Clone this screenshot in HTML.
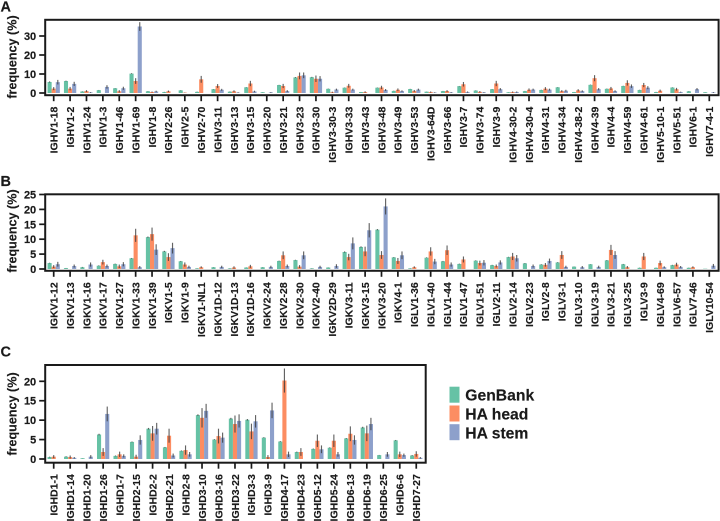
<!DOCTYPE html>
<html>
<head>
<meta charset="utf-8">
<style>
html,body{margin:0;padding:0;background:#fff;}
svg{display:block;font-family:"Liberation Sans",Arial,sans-serif;font-weight:bold;fill:#1a1a1a;}
svg text{stroke:#1a1a1a;stroke-width:0.15px;}
</style>
</head>
<body>
<svg id="chart" width="720" height="521" viewBox="0 0 720 521" xmlns="http://www.w3.org/2000/svg">
  <text x="0.5" y="11.5" font-size="14.5">A</text>
  <text x="0.5" y="186" font-size="14.5">B</text>
  <text x="0.5" y="356.5" font-size="14.5">C</text>
  <g>
    <rect x="449.5" y="386.7" width="10" height="16" fill="#66c2a5"/>
    <text x="465.3" y="400.7" font-size="15.7">GenBank</text>
    <rect x="449.5" y="405.5" width="10" height="16" fill="#fc8d62"/>
    <text x="465.3" y="419.7" font-size="15.7">HA head</text>
    <rect x="449.5" y="424.2" width="10" height="16" fill="#8da0cb"/>
    <text x="465.3" y="438.3" font-size="15.7">HA stem</text>
  </g>
</svg>
<script>
const aCategories = ["IGHV1-18","IGHV1-2","IGHV1-24","IGHV1-3","IGHV1-46","IGHV1-69","IGHV1-8","IGHV2-26","IGHV2-5","IGHV2-70","IGHV3-11","IGHV3-13","IGHV3-15","IGHV3-20","IGHV3-21","IGHV3-23","IGHV3-30","IGHV3-30-3","IGHV3-33","IGHV3-43","IGHV3-48","IGHV3-49","IGHV3-53","IGHV3-64D","IGHV3-66","IGHV3-7","IGHV3-74","IGHV3-9","IGHV4-30-2","IGHV4-30-4","IGHV4-31","IGHV4-34","IGHV4-38-2","IGHV4-39","IGHV4-4","IGHV4-59","IGHV4-61","IGHV5-10-1","IGHV5-51","IGHV6-1","IGHV7-4-1"];
const aGenBank = [5.8,6.3,0.8,1.5,2.5,10.2,0.9,0.5,1.4,0.6,2,0.7,3,0.4,4.2,8.2,8.3,2.2,2.8,0.5,2.8,1.1,2.1,0.7,1,3.6,1.3,2,0.4,1,1.6,3,0.5,4.3,2.2,3.7,1.6,0.5,2.9,0.9,0.4];
const aHead = [2.3,2.3,1,0,0.9,6.3,0.5,0.9,0.2,7.2,3.7,0.9,5,0,3.7,9,7.5,0.4,3.8,0.5,2.9,1.7,1.1,0.5,1,4.6,0.6,5,0.5,1.7,2.3,1,1.4,7.8,2.4,5.3,4.2,1.2,2,0,0];
const aStem = [5.7,4.8,0.3,3.2,2.5,35,0.8,0,0,0,1.7,0.2,0.8,0.3,1,9.3,7.5,1.8,1.8,0,1.6,1,1.8,0.2,0.3,0.5,0.3,2,0.5,1.8,1.8,1.2,1,2,1,3.6,2.8,0,0.5,2,0.3];
const aErrGenBank = [0.3,0.2,0.1,0.1,0.1,0.2,0.1,0.1,0.1,0.1,0.1,0.1,0.1,0.05,0.1,0.2,0.2,0.1,0.1,0.05,0.1,0.1,0.1,0.05,0.1,0.1,0.1,0.1,0.05,0.1,0.1,0.1,0.05,0.1,0.1,0.1,0.1,0.1,0.1,0.1,0.05];
const aErrHead = [0.8,0.9,0.5,0,0.6,1.5,0.3,0.4,0.1,1.8,1,0.5,1.4,0,1.1,1.8,1.7,0.3,1,0.4,0.9,0.7,0.5,0.3,0.5,1.2,0.4,1.4,0.3,0.7,0.8,0.5,0.6,1.6,0.8,1.4,1.1,0.6,0.7,0,0];
const aErrStem = [1.2,1.1,0.2,0.9,0.8,2.3,0.4,0,0,0,0.5,0.2,0.4,0.2,0.5,1.5,1.4,0.5,0.5,0,0.5,0.4,0.5,0.2,0.2,0.3,0.2,0.6,0.3,0.5,0.5,0.5,0.4,0.6,0.4,0.9,0.8,0,0.2,0.6,0.2];
const aTicks = [0,10,20,30];

const bCategories = ["IGKV1-12","IGKV1-13","IGKV1-16","IGKV1-17","IGKV1-27","IGKV1-33","IGKV1-39","IGKV1-5","IGKV1-9","IGKV1-NL1","IGKV1D-12","IGKV1D-13","IGKV1D-16","IGKV2-24","IGKV2-28","IGKV2-30","IGKV2-40","IGKV2D-29","IGKV3-11","IGKV3-15","IGKV3-20","IGKV4-1","IGLV1-36","IGLV1-40","IGLV1-44","IGLV1-47","IGLV1-51","IGLV2-11","IGLV2-14","IGLV2-23","IGLV2-8","IGLV3-1","IGLV3-10","IGLV3-19","IGLV3-21","IGLV3-25","IGLV3-9","IGLV4-69","IGLV6-57","IGLV7-46","IGLV10-54"];
const bGenBank = [2,0.3,0.6,1.1,1.7,3.6,10.7,5.9,2.6,0.2,0.6,0.2,0.5,0.6,2.7,3,0.2,0.5,5.7,7.4,13.2,3.9,0.2,3.8,2.6,1.7,2.8,1.3,4,1.9,1.5,2.2,0.8,1.6,2.9,1.6,0.4,0.4,1.3,0.4,0.1];
const bHead = [0.8,0,0,2.3,0.9,11.3,11.7,4,1.5,0.6,0,0.5,0.9,0,4.6,0.8,0,0,4,5.9,4.7,2.7,0.6,5.9,6.3,3.2,2,1,4.2,0,1.4,4.7,0,0,6.4,0.6,4.2,2,1.5,0.6,0];
const bStem = [1.6,1,1.5,1,1.6,0.6,6.5,7,0.7,0,0.7,0,0,0.7,1,4.6,0.7,1,8.6,13,21,4.6,0,2.5,1.5,0,2.1,2.2,3.6,1,2.7,0.7,0.6,0.7,4.7,0,0,0.6,0.7,0,1.1];
const bErrGenBank = [0.1,0.05,0.1,0.1,0.1,0.1,0.2,0.2,0.1,0.05,0.05,0.05,0.05,0.05,0.1,0.1,0.05,0.05,0.2,0.2,0.2,0.1,0.05,0.1,0.1,0.1,0.1,0.1,0.1,0.1,0.1,0.1,0.05,0.05,0.1,0.1,0.05,0.05,0.1,0.05,0];
const bErrHead = [0.5,0,0,0.8,0.6,2.2,2.2,1.3,0.7,0.3,0,0.4,0.5,0,1.3,0.5,0,0,1.1,1.6,1.3,1,0.3,1.4,1.6,1,0.8,0.5,1.2,0,0.6,1.3,0,0,1.7,0.4,1.2,0.8,0.6,0.3,0];
const bErrStem = [0.8,0.5,0.7,0.5,0.7,0.4,1.8,1.8,0.4,0,0.4,0,0,0.4,0.5,1.3,0.4,0.6,2,2.4,2.7,1.3,0,0.9,0.7,0,0.9,0.7,1.1,0.5,0.8,0.4,0.4,0.4,1.3,0,0,0.3,0.3,0,0.6];
const bTicks = [0,5,10,15,20,25];

const cCategories = ["IGHD1-1","IGHD1-14","IGHD1-20","IGHD1-26","IGHD1-7","IGHD2-15","IGHD2-2","IGHD2-21","IGHD2-8","IGHD3-10","IGHD3-16","IGHD3-22","IGHD3-3","IGHD3-9","IGHD4-17","IGHD4-23","IGHD5-12","IGHD5-24","IGHD6-13","IGHD6-19","IGHD6-25","IGHD6-6","IGHD7-27"];
const cGenBank = [0.5,0.6,0.2,6.3,0.8,4.4,7.8,3,2.1,11.3,5,10.4,10.1,5.5,4.5,1.8,2.6,2.9,5.3,8.1,1,4.8,0.9];
const cHead = [0.6,0.5,0,1.8,1.2,0.6,6.6,6,2.3,10.6,5.9,9,7.1,0.5,20.2,1.8,4.7,4.7,6.5,6.6,0,1.2,1.3];
const cStem = [0,0.3,0.6,11.6,0.8,4.9,7.8,0.9,1.2,12.4,5.5,9.8,9.7,12.5,1.2,0,2.5,1.2,4.9,9,1.2,1,0.3];
const cErrGenBank = [0.1,0.1,0.02,0.2,0.1,0.1,0.2,0.1,0.1,0.2,0.1,0.2,0.2,0.1,0.1,0.1,0.1,0.1,0.1,0.2,0.05,0.1,0.1];
const cErrHead = [0.4,0.4,0,1,0.7,0.5,1.9,1.8,1.2,2.5,1.9,2.2,2,0.5,3.1,1,1.6,1.6,1.9,2,0,0.7,0.7];
const cErrStem = [0,0.2,0.4,1.9,0.4,1.2,1.5,0.5,0.6,1.8,1.3,1.7,1.6,2,0.7,0,1,0.6,1.2,1.6,0.6,0.4,0.2];
const cTicks = [0,5,10,15,20];

const NS = 'http://www.w3.org/2000/svg';
const root = document.getElementById('chart');
const seriesColors = ['#66c2a5','#fc8d62','#8da0cb'];
const seriesNames = ['genbank','ha-head','ha-stem'];

function make(parent, tag, attrs) {
  const el = document.createElementNS(NS, tag);
  for (const k in attrs) el.setAttribute(k, attrs[k]);
  parent.appendChild(el);
  return el;
}

function drawPanel(id, opt, cats, series, errs, ticks) {
  const g = make(root, 'g', {});
  
  
  const xScale = i => opt.first + i * opt.step;
  const yScale = v => opt.zeroY - v * opt.unit;
  const barW = 4.1;

  cats.forEach((cat, i) => {
    series.forEach((vals, s) => {
      const v = vals[i];
      const cx = xScale(i) + (s - 1) * barW;
      if (v > 0) {
        const bar = make(g, 'rect', {x: cx - barW / 2, y: yScale(v), width: barW, height: v * opt.unit, fill: seriesColors[s]});
        
        
      }
      const e = errs[s][i];
      if (e > 0) {
        const line = make(g, 'line', {x1: cx, x2: cx, y1: yScale(v + e), y2: yScale(Math.max(v - e, 0)), stroke: '#3c3c3c', 'stroke-width': 1.15, 'stroke-opacity': 0.8});
        
        
      }
    });
    const tick = make(g, 'line', {x1: xScale(i), x2: xScale(i), y1: opt.bottom, y2: opt.bottom + 6, stroke: '#1a1a1a', 'stroke-width': 1.7});
    
    
    const ly = opt.bottom + 11.5;
    const label = make(g, 'text', {x: 0, y: 0, transform: 'translate(' + xScale(i) + ' ' + ly + ') rotate(-90)', 'text-anchor': 'end', dy: '0.36em', 'font-size': 10.5});
    label.textContent = cat;
    
    
  });

  ticks.forEach(t => {
    const tick = make(g, 'line', {x1: opt.left - 6, x2: opt.left, y1: yScale(t), y2: yScale(t), stroke: '#1a1a1a', 'stroke-width': 1.7});
    
    
    const label = make(g, 'text', {x: opt.left - 9, y: yScale(t), 'text-anchor': 'end', dy: '0.36em', 'font-size': 11});
    label.textContent = String(t);
    
    
  });

  const box = make(g, 'rect', {x: opt.left, y: opt.top, width: opt.right - opt.left, height: opt.bottom - opt.top, fill: 'none', stroke: '#1a1a1a', 'stroke-width': 2});
  
  

  const title = make(g, 'text', {x: 0, y: 0, transform: 'translate(16.5 ' + opt.titleY + ') rotate(-90)', 'text-anchor': 'middle', 'font-size': 12.6});
  title.textContent = 'frequency (%)';
  
  
}

drawPanel('a', {left: 45.2, right: 718.6, top: 19.8, bottom: 95.2, first: 53.7, step: 16.39, zeroY: 93, unit: 1.9, titleY: 57},
  aCategories, [aGenBank, aHead, aStem], [aErrGenBank, aErrHead, aErrStem], aTicks);
drawPanel('b', {left: 45.2, right: 718.6, top: 194.3, bottom: 270.8, first: 53.7, step: 16.39, zeroY: 269, unit: 2.98, titleY: 231},
  bCategories, [bGenBank, bHead, bStem], [bErrGenBank, bErrHead, bErrStem], bTicks);
drawPanel('c', {left: 45.2, right: 425.7, top: 365, bottom: 462.7, first: 53.7, step: 16.48, zeroY: 459, unit: 3.885, titleY: 414},
  cCategories, [cGenBank, cHead, cStem], [cErrGenBank, cErrHead, cErrStem], cTicks);
</script>
</body>
</html>
